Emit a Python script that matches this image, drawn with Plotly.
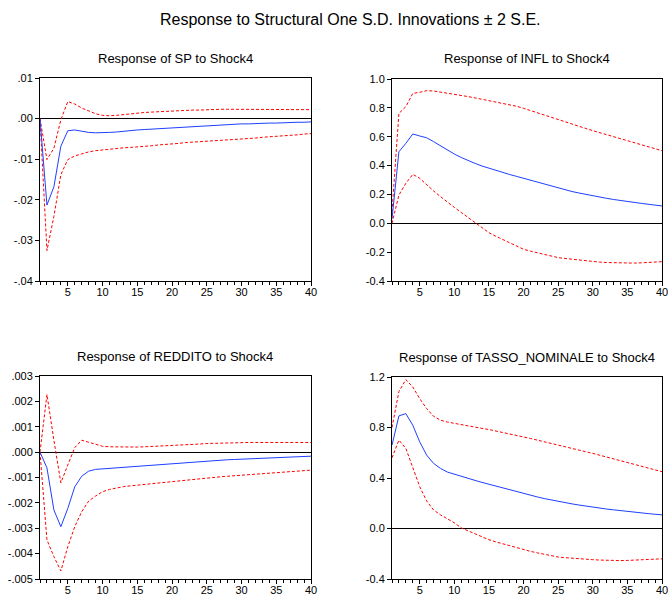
import plotly.graph_objects as go

periods = list(range(1, 41))

sp_resp = [0.0, -0.0213, -0.0168, -0.0068, -0.0030, -0.0028, -0.0031, -0.0034, -0.0035, -0.0035,
           -0.0034, -0.0033, -0.0031, -0.0029, -0.0028, -0.0027, -0.0026, -0.0024, -0.0023, -0.0022,
           -0.0021, -0.0020, -0.0019, -0.0018, -0.0017, -0.0016, -0.0016, -0.0015, -0.0014, -0.0013,
           -0.0013, -0.0012, -0.0012, -0.0011, -0.0011, -0.0010, -0.0010, -0.0009, -0.0009, -0.0008]
sp_up = [0.0, -0.0101, -0.0073, -0.0003, 0.0042, 0.0036, 0.0026, 0.0018, 0.0012, 0.0008,
         0.0007, 0.0008, 0.0010, 0.0012, 0.0014, 0.0015, 0.0016, 0.0017, 0.0018, 0.0019,
         0.0020, 0.0020, 0.0021, 0.0021, 0.0022, 0.0022, 0.0023, 0.0023, 0.0023, 0.0023,
         0.0023, 0.0023, 0.0023, 0.0023, 0.0023, 0.0023, 0.0022, 0.0022, 0.0022, 0.0022]
sp_lo = [0.0, -0.0325, -0.0241, -0.0138, -0.0101, -0.0092, -0.0087, -0.0082, -0.0079, -0.0077,
         -0.0075, -0.0074, -0.0072, -0.0071, -0.0070, -0.0068, -0.0067, -0.0065, -0.0064, -0.0062,
         -0.0061, -0.0059, -0.0058, -0.0056, -0.0055, -0.0054, -0.0053, -0.0052, -0.0051, -0.0050,
         -0.0049, -0.0048, -0.0046, -0.0045, -0.0044, -0.0043, -0.0041, -0.0040, -0.0038, -0.0037]

infl_resp = [0.03, 0.496, 0.554, 0.619, 0.605, 0.593, 0.566, 0.536, 0.507, 0.480,
             0.456, 0.434, 0.415, 0.397, 0.381, 0.366, 0.352, 0.338, 0.325, 0.312,
             0.298, 0.284, 0.270, 0.256, 0.242, 0.231, 0.220, 0.210, 0.200, 0.189,
             0.181, 0.173, 0.165, 0.157, 0.150, 0.144, 0.138, 0.132, 0.126, 0.120]
infl_up = [0.08, 0.762, 0.808, 0.900, 0.908, 0.919, 0.917, 0.910, 0.902, 0.894,
           0.886, 0.878, 0.869, 0.860, 0.850, 0.841, 0.832, 0.824, 0.811, 0.797,
           0.781, 0.765, 0.749, 0.732, 0.716, 0.701, 0.686, 0.672, 0.657, 0.642,
           0.628, 0.614, 0.601, 0.587, 0.573, 0.559, 0.545, 0.531, 0.517, 0.503]
infl_lo = [0.0, 0.196, 0.277, 0.339, 0.312, 0.265, 0.224, 0.185, 0.146, 0.110,
           0.075, 0.040, 0.005, -0.032, -0.065, -0.090, -0.113, -0.136, -0.158, -0.180,
           -0.193, -0.205, -0.217, -0.228, -0.238, -0.244, -0.250, -0.256, -0.261, -0.266,
           -0.269, -0.272, -0.274, -0.276, -0.277, -0.276, -0.274, -0.271, -0.268, -0.266]

red_resp = [0.0, -0.00062, -0.00228, -0.00294, -0.00222, -0.00137, -0.00095, -0.00075, -0.00068, -0.00066,
            -0.00064, -0.00062, -0.00060, -0.00058, -0.00055, -0.00053, -0.00051, -0.00049, -0.00047, -0.00045,
            -0.00043, -0.00041, -0.00038, -0.00036, -0.00034, -0.00033, -0.00032, -0.00030, -0.00029, -0.00028,
            -0.00027, -0.00025, -0.00024, -0.00022, -0.00021, -0.00020, -0.00019, -0.00018, -0.00017, -0.00016]
red_up = [0.0, 0.00227, 0.00047, -0.00121, -0.00051, 0.00018, 0.00047, 0.00038, 0.00030, 0.00023,
          0.00021, 0.00020, 0.00019, 0.00019, 0.00020, 0.00021, 0.00022, 0.00024, 0.00025, 0.00027,
          0.00028, 0.00029, 0.00031, 0.00032, 0.00034, 0.00035, 0.00035, 0.00036, 0.00037, 0.00038,
          0.00038, 0.00038, 0.00038, 0.00038, 0.00038, 0.00038, 0.00038, 0.00038, 0.00038, 0.00038]
red_lo = [0.0, -0.00346, -0.00412, -0.00468, -0.00373, -0.00294, -0.00235, -0.00193, -0.00173, -0.00156,
          -0.00147, -0.00140, -0.00136, -0.00133, -0.00130, -0.00128, -0.00125, -0.00122, -0.00120, -0.00117,
          -0.00114, -0.00111, -0.00107, -0.00104, -0.00101, -0.00099, -0.00097, -0.00095, -0.00093, -0.00091,
          -0.00089, -0.00087, -0.00086, -0.00084, -0.00082, -0.00080, -0.00077, -0.00075, -0.00073, -0.00071]

tn_resp = [0.66, 0.892, 0.910, 0.818, 0.687, 0.582, 0.516, 0.476, 0.447, 0.429,
           0.413, 0.397, 0.381, 0.365, 0.350, 0.335, 0.320, 0.304, 0.289, 0.274,
           0.262, 0.250, 0.237, 0.225, 0.213, 0.204, 0.195, 0.186, 0.177, 0.168,
           0.161, 0.154, 0.148, 0.141, 0.134, 0.129, 0.124, 0.118, 0.113, 0.108]
tn_up = [0.80, 1.085, 1.179, 1.121, 1.029, 0.950, 0.889, 0.858, 0.843, 0.832,
         0.821, 0.810, 0.801, 0.793, 0.784, 0.773, 0.761, 0.750, 0.738, 0.726,
         0.713, 0.700, 0.686, 0.673, 0.660, 0.647, 0.634, 0.621, 0.608, 0.595,
         0.580, 0.566, 0.551, 0.536, 0.521, 0.507, 0.493, 0.478, 0.464, 0.450]
tn_lo = [0.56, 0.700, 0.634, 0.476, 0.332, 0.218, 0.147, 0.108, 0.078, 0.045,
         0.005, -0.020, -0.045, -0.068, -0.089, -0.106, -0.122, -0.138, -0.154, -0.169,
         -0.181, -0.193, -0.204, -0.215, -0.226, -0.231, -0.236, -0.240, -0.244, -0.247,
         -0.250, -0.253, -0.255, -0.254, -0.253, -0.251, -0.249, -0.246, -0.243, -0.240]

panel_titles = ["Response of SP to Shock4", "Response of INFL to Shock4",
                "Response of REDDITO to Shock4", "Response of TASSO_NOMINALE to Shock4"]
main_title = "Response to Structural One S.D. Innovations ± 2 S.E."

x_ticks = [5, 10, 15, 20, 25, 30, 35, 40]
sp_ticks = [0.01, 0.0, -0.01, -0.02, -0.03, -0.04]
sp_ticktext = [".01", ".00", "-.01", "-.02", "-.03", "-.04"]
infl_ticks = [1.0, 0.8, 0.6, 0.4, 0.2, 0.0, -0.2, -0.4]
infl_ticktext = ["1.0", "0.8", "0.6", "0.4", "0.2", "0.0", "-0.2", "-0.4"]
red_ticks = [0.003, 0.002, 0.001, 0.0, -0.001, -0.002, -0.003, -0.004, -0.005]
red_ticktext = [".003", ".002", ".001", ".000", "-.001", "-.002", "-.003", "-.004", "-.005"]
tn_ticks = [1.2, 0.8, 0.4, 0.0, -0.4]
tn_ticktext = ["1.2", "0.8", "0.4", "0.0", "-0.4"]

FONT = "Liberation Sans, Arial, sans-serif"
W, H = 668, 596

panels = [
    dict(resp=sp_resp, up=sp_up, lo=sp_lo, yr=[-0.04, 0.01], tv=sp_ticks, tt=sp_ticktext,
         px=(40, 311), py=(78, 281)),
    dict(resp=infl_resp, up=infl_up, lo=infl_lo, yr=[-0.4, 1.0], tv=infl_ticks, tt=infl_ticktext,
         px=(392, 662), py=(79, 281)),
    dict(resp=red_resp, up=red_up, lo=red_lo, yr=[-0.005, 0.003], tv=red_ticks, tt=red_ticktext,
         px=(40, 311), py=(376, 579)),
    dict(resp=tn_resp, up=tn_up, lo=tn_lo, yr=[-0.4, 1.2], tv=tn_ticks, tt=tn_ticktext,
         px=(392, 662), py=(377, 579)),
]

fig = go.Figure()
layout = {}
annotations = []
for i, p in enumerate(panels):
    n = i + 1
    xa = "x" if n == 1 else f"x{n}"
    ya = "y" if n == 1 else f"y{n}"
    for series, color, dash in [(p["up"], "#ff0000", "3px,2px"),
                                (p["lo"], "#ff0000", "3px,2px"),
                                (p["resp"], "#1f3fff", "solid")]:
        fig.add_trace(go.Scatter(x=periods, y=series, mode="lines", xaxis=xa, yaxis=ya,
                                 line=dict(color=color, width=1, dash=dash),
                                 showlegend=False, hoverinfo="skip"))
    xk = "xaxis" if n == 1 else f"xaxis{n}"
    yk = "yaxis" if n == 1 else f"yaxis{n}"
    layout[xk] = dict(domain=[p["px"][0] / W, p["px"][1] / W], range=[1, 40], anchor=ya,
                      automargin=False, ticklabeloverflow="allow", ticklabelstandoff=-3,
                      tickmode="array", tickvals=x_ticks, ticks="outside", ticklen=4,
                      tickcolor="black", showgrid=False, zeroline=False,
                      showline=True, mirror=True, linecolor="black", linewidth=1,
                      tickfont=dict(family=FONT, size=11, color="black"),
                      minor=dict(dtick=1, tick0=1, ticks="outside", ticklen=3, tickcolor="black",
                                 showgrid=False))
    layout[yk] = dict(domain=[1 - p["py"][1] / H, 1 - p["py"][0] / H], range=p["yr"], anchor=xa,
                      automargin=False, ticklabeloverflow="allow",
                      tickmode="array", tickvals=p["tv"], ticktext=p["tt"], ticks="outside",
                      ticklen=4, tickcolor="black", showgrid=False,
                      zeroline=True, zerolinecolor="black", zerolinewidth=1,
                      showline=True, mirror=True, linecolor="black", linewidth=1,
                      tickfont=dict(family=FONT, size=11, color="black"))
    cx = (p["px"][0] + p["px"][1]) / 2 / W
    ty = (p["py"][0] - 20)
    annotations.append(dict(text=panel_titles[i], x=cx, y=1 - ty / H, xref="paper", yref="paper",
                            showarrow=False, xanchor="center", yanchor="middle",
                            font=dict(family=FONT, size=13, color="black")))

annotations.append(dict(text=main_title, x=350 / W, y=1 - 20 / H, xref="paper", yref="paper",
                        showarrow=False, xanchor="center", yanchor="middle",
                        font=dict(family=FONT, size=16, color="black")))

fig.update_layout(width=W, height=H, margin=dict(l=0, r=0, t=0, b=0, pad=0),
                  paper_bgcolor="white", plot_bgcolor="white",
                  annotations=annotations, **layout)

fig.write_html("out.html", config={"displayModeBar": False},
               post_script="document.body.style.margin='0';document.body.style.overflow='hidden';")
